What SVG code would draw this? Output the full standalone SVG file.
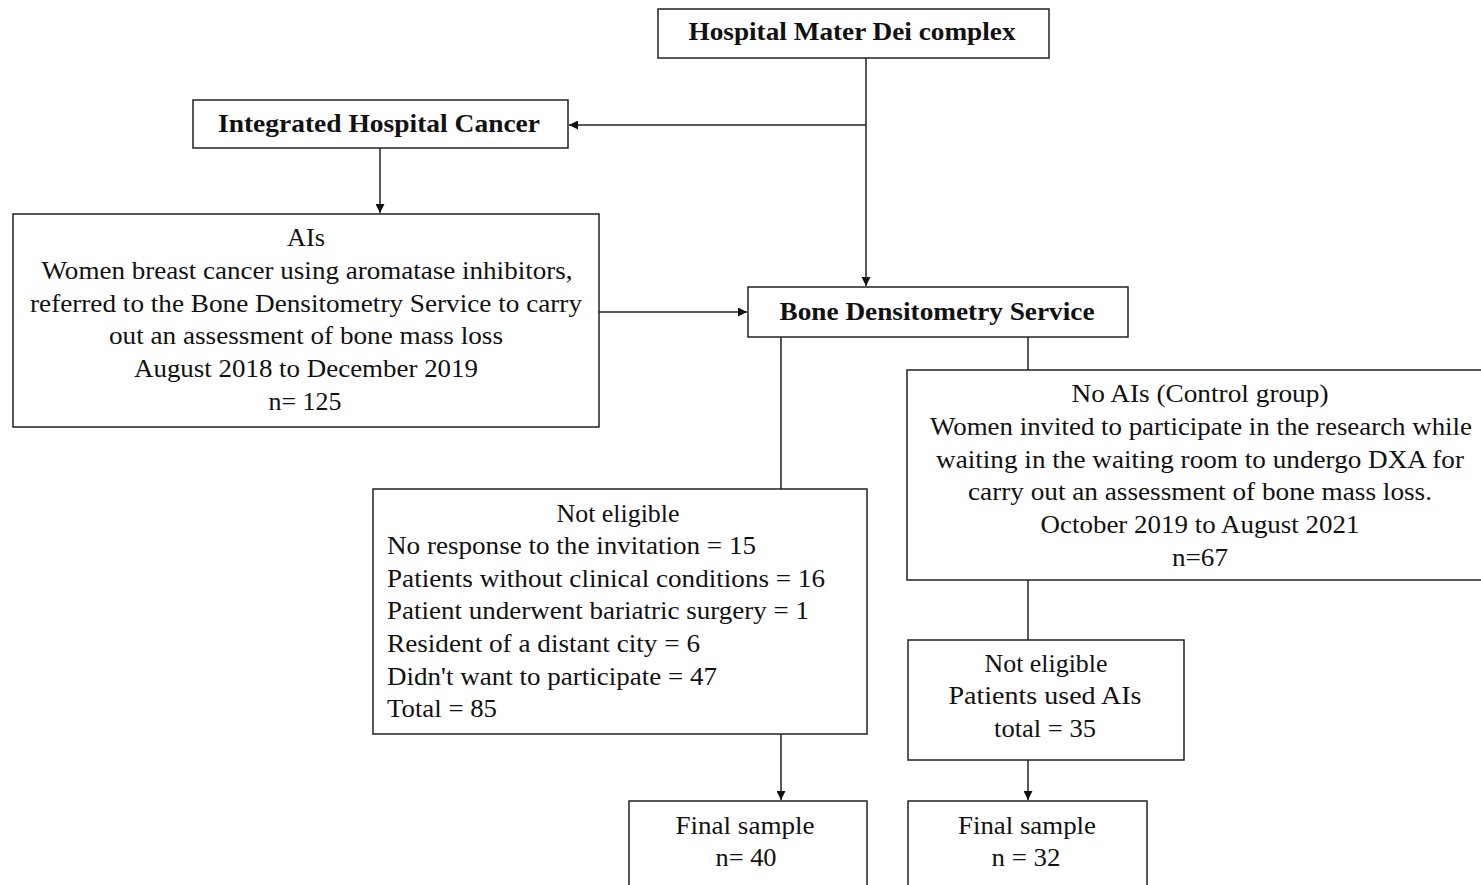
<svg xmlns="http://www.w3.org/2000/svg" width="1481" height="885" viewBox="0 0 1481 885">
<defs>
<style>
.box{fill:#fff;stroke:#222;stroke-width:1.5}
.t{font-family:"Liberation Serif","Times New Roman",serif;font-size:25px;fill:#111}
.b{font-family:"Liberation Serif","Times New Roman",serif;font-size:25px;font-weight:bold;fill:#111}
.c{text-anchor:middle}
.ln{fill:none;stroke:#222;stroke-width:1.5}
</style>
<marker id="ah" viewBox="0 0 10 10" refX="10" refY="5" markerWidth="9" markerHeight="9" markerUnits="userSpaceOnUse" orient="auto"><path d="M0,0 L10,5 L0,10 z" fill="#111"/></marker>
</defs>
<rect width="1481" height="885" fill="#fff"/>
<g id="connectors">
<path class="ln" d="M866,58 V286" marker-end="url(#ah)"/>
<path class="ln" d="M866,125 H569" marker-end="url(#ah)"/>
<path class="ln" d="M380,148 V213" marker-end="url(#ah)"/>
<path class="ln" d="M599,312 H747" marker-end="url(#ah)"/>
<path class="ln" d="M781,337 V489"/>
<path class="ln" d="M1028,337 V370"/>
<path class="ln" d="M1028,580 V640"/>
<path class="ln" d="M781,734 V800" marker-end="url(#ah)"/>
<path class="ln" d="M1028,760 V800" marker-end="url(#ah)"/>
</g>
<g id="hospital">
<rect class="box" x="658" y="9" width="391" height="49"/>
<text class="b c" x="852" y="40" textLength="327" lengthAdjust="spacingAndGlyphs">Hospital Mater Dei complex</text>
</g>
<g id="integrated">
<rect class="box" x="193" y="100" width="375" height="48"/>
<text class="b c" x="379" y="132" textLength="322" lengthAdjust="spacingAndGlyphs">Integrated Hospital Cancer</text>
</g>
<g id="ais">
<rect class="box" x="13" y="214" width="586" height="213"/>
<text class="t c" x="306" y="246" textLength="38" lengthAdjust="spacingAndGlyphs">AIs</text>
<text class="t c" x="307" y="279" textLength="531" lengthAdjust="spacingAndGlyphs">Women breast cancer using aromatase inhibitors,</text>
<text class="t c" x="306" y="312" textLength="552" lengthAdjust="spacingAndGlyphs">referred to the Bone Densitometry  Service to carry</text>
<text class="t c" x="306" y="344" textLength="394" lengthAdjust="spacingAndGlyphs">out an assessment of bone mass loss</text>
<text class="t c" x="306" y="377" textLength="344" lengthAdjust="spacingAndGlyphs">August 2018 to December 2019</text>
<text class="t c" x="305" y="410" textLength="73" lengthAdjust="spacingAndGlyphs">n= 125</text>
</g>
<g id="bone">
<rect class="box" x="748" y="287" width="380" height="50"/>
<text class="b c" x="937" y="320" textLength="315" lengthAdjust="spacingAndGlyphs">Bone Densitometry Service</text>
</g>
<g id="noteligible1">
<rect class="box" x="373" y="489" width="494" height="245"/>
<text class="t c" x="618" y="522" textLength="123" lengthAdjust="spacingAndGlyphs">Not eligible</text>
<text class="t" x="387" y="554" textLength="369" lengthAdjust="spacingAndGlyphs">No response to the invitation  = 15</text>
<text class="t" x="387" y="587" textLength="438" lengthAdjust="spacingAndGlyphs">Patients  without  clinical  conditions = 16</text>
<text class="t" x="387" y="619" textLength="422" lengthAdjust="spacingAndGlyphs">Patient underwent  bariatric  surgery = 1</text>
<text class="t" x="387" y="652" textLength="313" lengthAdjust="spacingAndGlyphs">Resident of a distant city = 6</text>
<text class="t" x="387" y="685" textLength="330" lengthAdjust="spacingAndGlyphs">Didn't want to participate = 47</text>
<text class="t" x="387" y="717" textLength="110" lengthAdjust="spacingAndGlyphs">Total = 85</text>
</g>
<g id="control">
<rect class="box" x="907" y="370" width="580" height="210"/>
<text class="t c" x="1200" y="402" textLength="257" lengthAdjust="spacingAndGlyphs">No AIs (Control group)</text>
<text class="t c" x="1201" y="435" textLength="542" lengthAdjust="spacingAndGlyphs">Women invited  to participate  in the research while</text>
<text class="t c" x="1200" y="468" textLength="528" lengthAdjust="spacingAndGlyphs">waiting  in the waiting  room to undergo DXA for</text>
<text class="t c" x="1200" y="500" textLength="464" lengthAdjust="spacingAndGlyphs">carry out an assessment of bone mass loss.</text>
<text class="t c" x="1200" y="533" textLength="319" lengthAdjust="spacingAndGlyphs">October 2019  to August  2021</text>
<text class="t c" x="1200" y="566" textLength="56" lengthAdjust="spacingAndGlyphs">n=67</text>
</g>
<g id="noteligible2">
<rect class="box" x="908" y="640" width="276" height="120"/>
<text class="t c" x="1046" y="672" textLength="123" lengthAdjust="spacingAndGlyphs">Not eligible</text>
<text class="t c" x="1045" y="704" textLength="193" lengthAdjust="spacingAndGlyphs">Patients  used AIs</text>
<text class="t c" x="1045" y="737" textLength="102" lengthAdjust="spacingAndGlyphs">total = 35</text>
</g>
<g id="final1">
<rect class="box" x="629" y="801" width="238" height="100"/>
<text class="t c" x="745" y="834" textLength="139" lengthAdjust="spacingAndGlyphs">Final  sample</text>
<text class="t c" x="746" y="866" textLength="61" lengthAdjust="spacingAndGlyphs">n= 40</text>
</g>
<g id="final2">
<rect class="box" x="908" y="801" width="239" height="100"/>
<text class="t c" x="1027" y="834" textLength="138" lengthAdjust="spacingAndGlyphs">Final  sample</text>
<text class="t c" x="1026" y="866" textLength="69" lengthAdjust="spacingAndGlyphs">n = 32</text>
</g>
</svg>
